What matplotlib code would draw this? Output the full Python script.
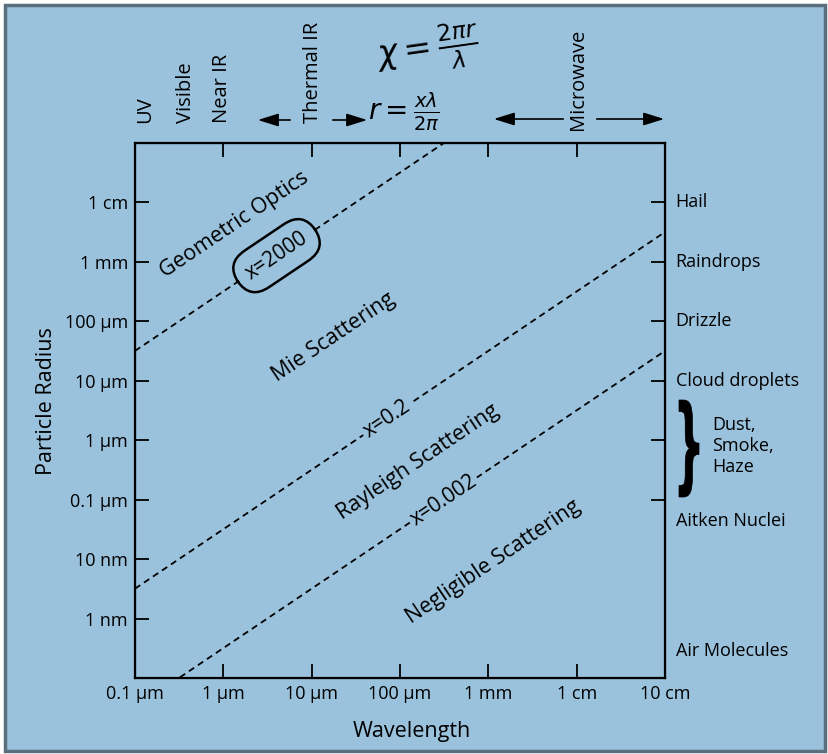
import numpy as np
import matplotlib
matplotlib.use('Agg')
import matplotlib.pyplot as plt
from matplotlib.patches import Rectangle, FancyArrowPatch, PathPatch
from matplotlib.textpath import TextPath
from matplotlib.font_manager import FontProperties
from matplotlib.transforms import Affine2D

plt.rcParams['font.family'] = ['Open Sans', 'DejaVu Sans']

BG = '#9ac2dc'
W, H = 829, 754

# axis ticks (metres)
x_ticks = [1e-7, 1e-6, 1e-5, 1e-4, 1e-3, 1e-2, 1e-1]
x_labels = ['0.1 \u00b5m', '1 \u00b5m', '10 \u00b5m', '100 \u00b5m', '1 mm', '1 cm', '10 cm']
y_ticks = [1e-2, 1e-3, 1e-4, 1e-5, 1e-6, 1e-7, 1e-8, 1e-9]
y_labels = ['1 cm', '1 mm', '100 \u00b5m', '10 \u00b5m', '1 \u00b5m', '0.1 \u00b5m', '10 nm', '1 nm']
right_ticks = [1e-2, 1e-3, 1e-4, 1e-5, 1e-6, 1e-7]

# size parameter lines x = 2*pi*r / lambda
size_params = [2000, 0.2, 0.002]
size_labels = ['x=2000', 'x=0.2', 'x=0.002']
size_label_wl = [4.0e-6, 7.1e-5, 3.1e-4]
wl_range = np.array([1e-7, 1e-1])

# regimes (wavelength, radius)
regimes = ['Geometric Optics', 'Mie Scattering', 'Rayleigh Scattering', 'Negligible Scattering']
regime_wl = [1.35e-6, 1.75e-5, 1.6e-4, 1.13e-3]
regime_r = [4.3e-3, 5.4e-5, 4.3e-7, 8.9e-9]

# right-hand particle types
particles = ['Hail', 'Raindrops', 'Drizzle', 'Cloud droplets', 'Aitken Nuclei', 'Air Molecules']
particle_r = [1e-2, 1e-3, 1e-4, 1e-5, 4.4e-8, 2.9e-10]

# top spectral bands (pixel x of the label)
bands = ['UV', 'Visible', 'Near IR', 'Thermal IR', 'Microwave']
band_px = [145, 186, 222, 313, 578]


def fx(px):
    return px / W


def fy(py):
    return 1 - py / H


fig = plt.figure(figsize=(W / 100, H / 100), dpi=100)
fig.patch.set_facecolor('white')
fig.patches.append(Rectangle((fx(5), fy(751)), fx(820), 746 / H, transform=fig.transFigure,
                             facecolor=BG, edgecolor='#5b6e7e', linewidth=2.5, zorder=-5))

ax = fig.add_axes([fx(135), fy(678), 530 / W, 535 / H])
ax.set_facecolor(BG)
ax.set_xscale('log')
ax.set_yscale('log')
ax.set_xlim(1e-7, 1e-1)
ax.set_ylim(1e-10, 1e-1)
for s in ax.spines.values():
    s.set_linewidth(1.6)

ax.set_xticks(x_ticks)
ax.set_xticklabels(x_labels)
ax.set_yticks(y_ticks)
ax.set_yticklabels(y_labels)
ax.minorticks_off()
ax.tick_params(axis='both', direction='in', length=10, width=1.3, labelsize=13)
ax.tick_params(axis='x', top=True, pad=5)
ax.tick_params(axis='y', pad=5)

axr = ax.twinx()
axr.set_yscale('log')
axr.set_ylim(ax.get_ylim())
axr.set_yticks(right_ticks)
axr.minorticks_off()
axr.tick_params(direction='in', length=10, width=1.3, labelright=False)

fig.text(fx(412), fy(731), 'Wavelength', fontsize=15.5, ha='center', va='center')
fig.text(fx(47), fy(401), 'Particle Radius', fontsize=15.5, ha='center', va='center',
         rotation=90)

# size parameter lines
p0 = ax.transData.transform((1e-6, 1e-6))
p1 = ax.transData.transform((1e-3, 1e-3))
angle = np.degrees(np.arctan2(p1[1] - p0[1], p1[0] - p0[0]))

for xp, lab, wl in zip(size_params, size_labels, size_label_wl):
    ax.plot(wl_range, xp * wl_range / (2 * np.pi), color='black', lw=1.3,
            ls=(0, (3.5, 2.5)))
    r = xp * wl / (2 * np.pi)
    if xp == 2000:
        bb = dict(boxstyle='round,pad=0.55,rounding_size=1.1', facecolor=BG,
                  edgecolor='black', linewidth=1.8)
    else:
        bb = dict(boxstyle='square,pad=0.12', facecolor=BG, edgecolor='none')
    ax.text(wl, r, lab, rotation=angle, rotation_mode='anchor', ha='center',
            va='center', fontsize=15, bbox=bb)

for lab, wl, r in zip(regimes, regime_wl, regime_r):
    ax.text(wl, r, lab, rotation=angle, rotation_mode='anchor', ha='center',
            va='center', fontsize=15.5)

for lab, r in zip(particles, particle_r):
    ax.text(1.02, r, lab, transform=ax.get_yaxis_transform(), ha='left',
            va='center', fontsize=13)

# curly brace grouping Dust / Smoke / Haze, fitted to its box (pixels)
brace = TextPath((0, 0), '}', size=100, prop=FontProperties(family='DejaVu Sans', weight='bold'))
ext = brace.get_extents()
bx0, bx1, by0, by1 = 679, 699, 400, 497
brace_tr = (Affine2D().translate(-ext.x0, -ext.y0)
            .scale((bx1 - bx0) / ext.width, (by1 - by0) / ext.height)
            .translate(bx0, H - by1)
            .scale(1 / W, 1 / H)) + fig.transFigure
fig.patches.append(PathPatch(brace, transform=brace_tr, facecolor='black',
                             edgecolor='black', lw=0.5))

fig.text(fx(712), fy(446), 'Dust,\nSmoke,\nHaze', fontsize=13, ha='left',
         va='center', linespacing=1.2)

for lab, px in zip(bands, band_px):
    bottom = 130 if lab == 'Microwave' else 123
    fig.text(fx(px), fy(bottom), lab, rotation=90, ha='center', va='bottom', fontsize=14.5)

for a, b, yy in [(293, 255, 120), (330, 370, 120), (566, 491, 119), (594, 667, 119)]:
    fig.patches.append(FancyArrowPatch((fx(a), fy(yy)), (fx(b), fy(yy)),
                                       transform=fig.transFigure,
                                       arrowstyle='-|>,head_length=0.9,head_width=0.28',
                                       mutation_scale=14, color='black', lw=1.2, zorder=3))

# handwritten notes
fig.text(fx(428), fy(50), r'$\chi = \frac{2\pi r}{\lambda}$', fontsize=24,
         ha='center', va='center', rotation=8)
fig.text(fx(404), fy(112), r'$r = \frac{x\lambda}{2\pi}$', fontsize=20,
         ha='center', va='center')

fig.savefig('out.png', dpi=100, facecolor=fig.get_facecolor())
